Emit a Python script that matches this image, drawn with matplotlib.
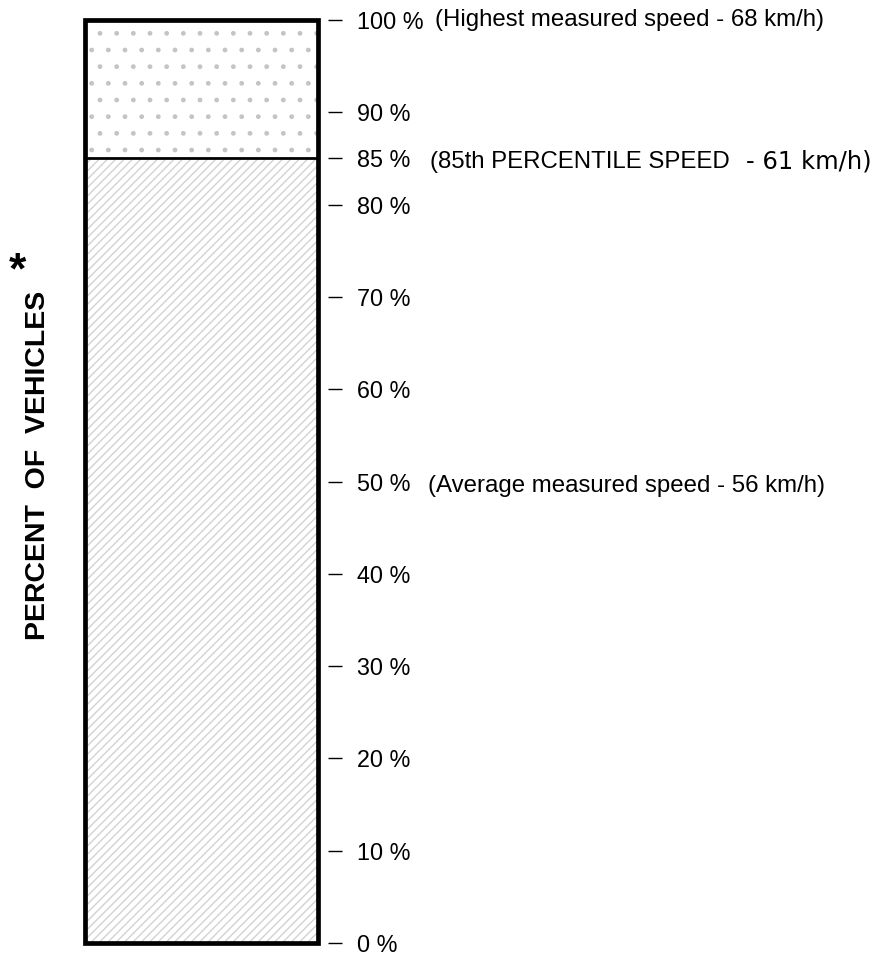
import matplotlib
matplotlib.use("Agg")
import matplotlib.pyplot as plt

# data
tick_values = [0, 10, 20, 30, 40, 50, 60, 70, 80, 85, 90, 100]
tick_labels = [f"{v} %" for v in tick_values]
percentile_85 = 85
top_value = 100
note_top = "(Highest measured speed - 68 km/h)"
note_avg = "(Average measured speed - 56 km/h)"
note_85_a = "(85th PERCENTILE SPEED"
note_85_b = "- 61 km/h)"
y_label = "PERCENT  OF  VEHICLES"

plt.rcParams["font.family"] = ["Liberation Sans", "DejaVu Sans"]
plt.rcParams["hatch.linewidth"] = 1.0

W, H = 885, 956
fig = plt.figure(figsize=(W / 100, H / 100), dpi=100)
fig.patch.set_facecolor("white")

# axes runs from bar left edge to the tick line (small gap after bar)
left, right = 85, 328
top, bottom = 20, 943
bar_w = 318 - left
ax = fig.add_axes([left / W, 1 - bottom / H, (right - left) / W, (bottom - top) / H])
ax.set_xlim(0, right - left)
ax.set_ylim(0, top_value)

ax.bar(0, percentile_85, width=bar_w, align="edge", facecolor="white",
       edgecolor="#d2d2d2", hatch="////", lw=0)
ax.bar(0, top_value - percentile_85, bottom=percentile_85, width=bar_w, align="edge",
       facecolor="white", edgecolor="#c4c4c4", hatch=".", lw=0)
ax.bar(0, top_value, width=bar_w, align="edge", fill=False, edgecolor="black",
       lw=3.4, zorder=3, clip_on=False)
ax.plot([0, bar_w], [percentile_85, percentile_85], color="black", lw=2.0, zorder=3)

for s in ax.spines.values():
    s.set_visible(False)
ax.set_xticks([])
ax.yaxis.tick_right()
ax.set_yticks(tick_values)
ax.set_yticklabels(tick_labels)
ax.tick_params(axis="y", direction="out", length=10, width=1.0, pad=11,
               labelsize=16.8, colors="black")

fs = 17.3
fig.text(435 / W, 1 - 20 / H, note_top, fontsize=fs, va="center", ha="left")
fig.text(428 / W, 1 - 486 / H, note_avg, fontsize=fs, va="center", ha="left")
fig.text(430 / W, 1 - 162 / H, note_85_a, fontsize=fs, va="center", ha="left")
fig.text(746 / W, 1 - 162 / H, note_85_b, fontsize=17.5, va="center", ha="left",
         family="DejaVu Sans")

fig.text(38 / W, 1 - 465 / H, y_label, rotation=90, fontsize=20.5,
         fontweight="bold", va="center", ha="center")
fig.text(17 / W, 1 - 272 / H, "*", fontsize=32, fontweight="bold", va="center",
         ha="center")

fig.savefig("out.png", dpi=100, facecolor="white")
